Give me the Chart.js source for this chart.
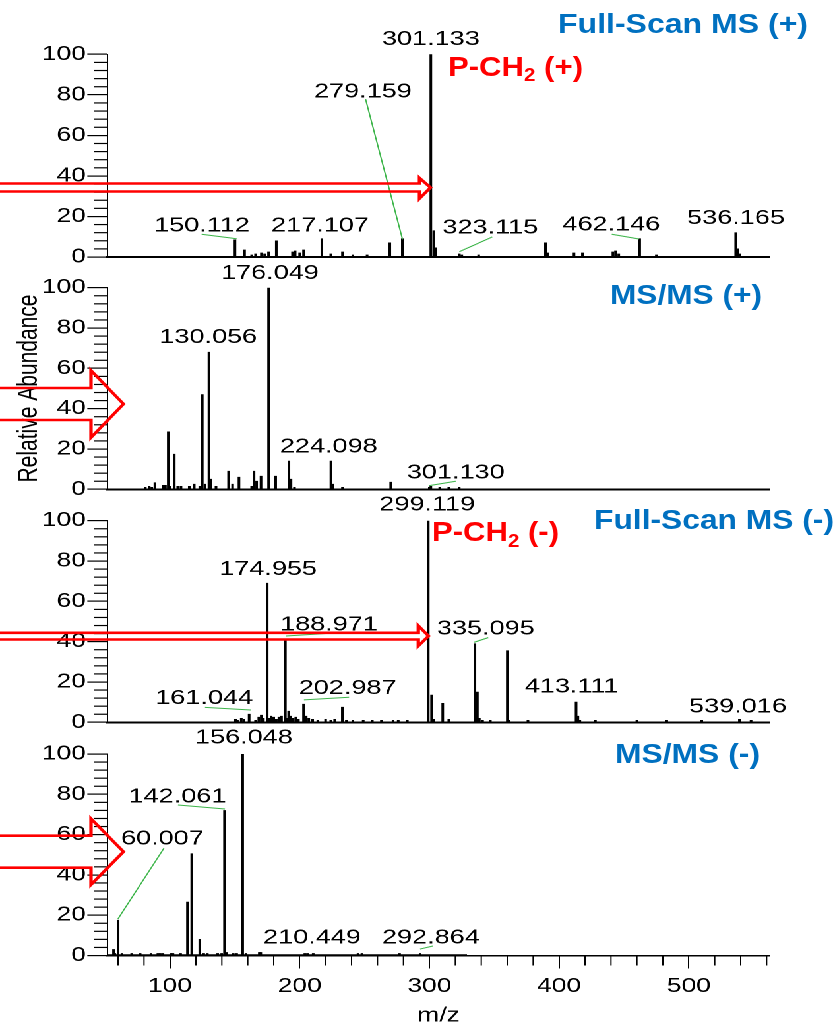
<!DOCTYPE html>
<html>
<head>
<meta charset="utf-8">
<script src="https://cdn.jsdelivr.net/npm/chart.js@4.4.1/dist/chart.umd.min.js"></script>
<style>
html,body{margin:0;padding:0;background:#fff;width:835px;height:1026px;overflow:hidden;}
#stage{position:absolute;left:0;top:0;width:633px;height:1026px;transform:scaleX(1.319115);transform-origin:0 0;}
#stage canvas{position:absolute;left:0;top:0;}
#titles{position:absolute;left:0;top:0;width:835px;height:1026px;pointer-events:none;}
.ttl{position:absolute;font-family:"Liberation Sans",Arial,sans-serif;font-weight:bold;white-space:nowrap;line-height:1;transform-origin:0 0;}
.sub{font-size:0.66em;position:relative;top:0.3em;}
</style>
</head>
<body>
<div id="stage">
  <canvas id="c1" width="633" height="1026"></canvas>
  <canvas id="c2" width="633" height="1026"></canvas>
  <canvas id="c3" width="633" height="1026"></canvas>
  <canvas id="c4" width="633" height="1026"></canvas>
</div>
<div id="titles"></div>
<script>
// ---------------- DATA ----------------
// Panel 1: Full-Scan MS (+)
const fullPosMz = [150.112,157.5,163,166,170.5,173,176,182,194.5,196.5,200,203,217.107,224,233,241,252,269.5,279.159,301.133,303.4,305,323.1,325,338,389.5,391,411.5,418,441.5,443.5,446,462.146,475,536.165,537.5,539];
const fullPosAb = [8.5,3.5,1,1.5,2,1.5,2.5,8,2.5,3,2,3.5,9,1.5,2.5,1,1,7,9,100,13,4.5,1.5,1,1,7,2,2,2,2.5,3,1.5,9,1,12,4,1.5];
const fullPosLabels = ['301.133','279.159','150.112','217.107','323.115','462.146','536.165'];

// Panel 2: MS/MS (+)
const msmsPosMz = [81,84,86,88.4,95,96.5,98.7,100,103.3,106,108.5,114.9,118.7,123,124.9,127,130.056,131.6,135.5,145.2,148.3,153.2,163,164.8,166.8,170.2,176.049,181.5,191.7,193.3,196,224.098,225.5,233,270.2,300,301.13,308,315,323];
const msmsPosAb = [1,1.5,1,3.3,2,2,28.5,1.5,17.4,1.5,1.5,1.5,2.5,1.5,47,2.5,68,5,1.5,9,2.5,6,1.5,9,4,6.5,100,6.5,14,5,1,14,2.5,1,3.5,1,1.5,1,1,1];
const msmsPosLabels = ['176.049','130.056','224.098','301.130'];

// Panel 3: Full-Scan MS (-)
const fullNegMz = [150.5,152,155,157,161.044,166,168.5,170.4,172,174.955,176.5,178,180,182,184,186,188.971,190.5,191.5,193,195,197,199,202.987,205,207,210,214,220,224,227,232.9,236,241,249,256,263,272,276,283,299.119,301.7,303.5,310.3,315,335.095,337,338.5,341,347,360.1,361.5,376,413.111,414.5,416,428,460,483,510,539.016,548];
const fullNegAb = [1.5,1,2,1.5,4,1,2.5,3.5,2,69,2,3,2.5,1.5,2.5,3,40.5,2,5.5,3,2,2.5,1.5,9,3,2,1.5,1,1.5,1,1.5,7.5,1,1,1,1,1,1,1,1,100,13.5,1.5,9.4,1.5,39,15,2,1,1,35.5,1,1,10,3,1,1,1,1,1,1.5,1];
const fullNegLabels = ['299.119','174.955','188.971','335.095','202.987','161.044','413.111','539.016'];

// Panel 4: MS/MS (-)
const msmsNegMz = [56.5,57.5,60.007,63,70.5,77,85.4,90.7,92.5,94.6,100.8,102.3,108.2,113.5,116.8,123,126,128.8,136.8,139.9,142.061,143.5,148.8,151.4,156.048,158.6,168.9,170,204,206,210.449,245,248,277,292.864];
const msmsNegAb = [3,1,17.5,1,1,1,1,1,1,1,1,1,1,26.5,50.5,8,1,1,1,1,72,1.5,1,1,100,1,1.5,1.5,1,1,1,1,1,1,1];
const msmsNegLabels = ['156.048','142.061','60.007','210.449','292.864'];
const msmsNegScan = [52, 329];   // recorded scan range of the MS/MS (-) trace

// axis tick values
const yTickStep = 20, yMinorStep = 4;
const xTickStep = 100, xMinorStep = 20;

// ---------------- LAYOUT (display px / label placement) ----------------
const S = 835 / 633;
const X_MIN = 51.7, X_MAX = 562.6;
const FONT = '"Liberation Sans", Arial, sans-serif';
const lx = d => d / S;

const panelTop = [54.3, 287.7, 520.7, 754];
const panelBottom = [257, 489.3, 722.3, 955.5];

// label anchor [m/z, abundance] and optional leader [m/z1, ab1, m/z2, ab2]
const labelPos = [
  [[301.2,107.4],[248.8,81.5],[124.7,15.4],[215.7,15.4],[347,14.3],[440.3,15.8],[536.4,19.1]],
  [[177.1,107.2],[129.5,75.4],[222.4,21.1],[320.4,8.2]],
  [[298.3,107.8],[175.7,75.9],[222.6,48.3],[343.5,46.3],[237.0,16.9],[126.4,11.9],[409.7,17.7],[537.9,7.6]],
  [[157.0,108.1],[105.8,78.7],[94.2,57.8],[209.5,8.7],[301.2,8.7]]
];
const leaderPos = [
  [null,[250.8,77.9,279.3,8.7],[124.4,11.2,151.4,9.0],null,[348.5,9.9,323.1,2.6],[440.6,11.2,461.6,8.9],null],
  [null,null,null,[299.9,1.8,320.3,4.0]],
  [null,null,[189.4,42.8,223.4,44.2],[334.6,39.7,345.4,42.0],[203.3,11.1,238.1,12.4],[127.0,7.4,162.2,6.1],null,null],
  [null,[106.2,74.7,142.4,72.7],[95.4,53.3,59.9,18.1],null,[292.8,3.2,302.8,4.7]]
];

const arrowLayout = [
  {y1:183.5, y2:191.5, hb:419.5, ht:178, hbot:198.5, tipX:430.5, tipY:187.5},
  {y1:388, y2:420, hb:91, ht:370.5, hbot:437.5, tipX:123.5, tipY:404},
  {y1:632.8, y2:639.5, hb:418.3, ht:625.7, hbot:646, tipX:428.5, tipY:636},
  {y1:835.7, y2:867.7, hb:91, ht:818.7, hbot:884.7, tipX:123.5, tipY:851.7}
];

// ---------------- PLUGINS ----------------
const minorTicks = {
  id: 'minorTicks',
  afterDraw(chart, args, opts) {
    const {ctx} = chart;
    const ys = chart.scales.y, xs = chart.scales.x;
    ctx.save();
    ctx.strokeStyle = '#000';
    ctx.lineWidth = 1.2;
    for (let v = yMinorStep; v < 100; v += yMinorStep) {
      if (v % yTickStep === 0) continue;
      const py = ys.getPixelForValue(v);
      ctx.beginPath();
      ctx.moveTo(ys.right - lx(13), py);
      ctx.lineTo(ys.right, py);
      ctx.stroke();
    }
    if (opts.x) {
      ctx.lineWidth = 1;
      for (let v = 60; v <= X_MAX; v += xMinorStep) {
        if (v % xTickStep === 0) continue;
        const p = xs.getPixelForValue(v);
        ctx.beginPath();
        ctx.moveTo(p, xs.top);
        ctx.lineTo(p, xs.top + 10);
        ctx.stroke();
      }
    }
    ctx.restore();
  }
};

const peakLabels = {
  id: 'peakLabels',
  afterDatasetsDraw(chart, args, opts) {
    const {ctx} = chart;
    const xs = chart.scales.x, ys = chart.scales.y;
    ctx.save();
    opts.leaders.forEach(l => {
      if (!l) return;
      ctx.strokeStyle = '#3DB54A';
      ctx.lineWidth = 1;
      ctx.beginPath();
      ctx.moveTo(xs.getPixelForValue(l[0]), ys.getPixelForValue(l[1]));
      ctx.lineTo(xs.getPixelForValue(l[2]), ys.getPixelForValue(l[3]));
      ctx.stroke();
    });
    ctx.font = '20.5px ' + FONT;
    ctx.fillStyle = '#000';
    ctx.textAlign = 'center';
    ctx.textBaseline = 'middle';
    opts.texts.forEach((t, i) => {
      const p = opts.pos[i];
      ctx.fillText(t, xs.getPixelForValue(p[0]), ys.getPixelForValue(p[1]));
    });
    ctx.restore();
  }
};

const arrowPlugin = {
  id: 'arrow',
  afterDraw(chart, args, a) {
    if (!a || a.tipX === undefined) return;
    const {ctx} = chart;
    ctx.save();
    ctx.strokeStyle = '#FF0000';
    ctx.lineWidth = 2.6;
    ctx.lineJoin = 'miter';
    ctx.beginPath();
    ctx.moveTo(0, a.y1);
    ctx.lineTo(lx(a.hb), a.y1);
    ctx.lineTo(lx(a.hb), a.ht);
    ctx.lineTo(lx(a.tipX), a.tipY);
    ctx.lineTo(lx(a.hb), a.hbot);
    ctx.lineTo(lx(a.hb), a.y2);
    ctx.lineTo(0, a.y2);
    ctx.stroke();
    ctx.restore();
  }
};

// ---------------- BUILD ----------------
function buildPanel(idx, mz, ab, texts, opt) {
  const isLast = idx === 3;
  const datasets = [{
    type: 'bar',
    data: mz.map((m, i) => ({x: m, y: ab[i]})),
    backgroundColor: '#000',
    borderWidth: 0,
    barThickness: 1.35,
    grouped: false
  }];
  if (opt.scan) {
    datasets.push({
      type: 'line',
      data: opt.scan.map(m => ({x: m, y: 0})),
      borderColor: '#000',
      borderWidth: 2.6,
      pointRadius: 0
    });
  }
  const xAxisH = isLast ? 1026 - panelBottom[idx] : 0;
  return new Chart(document.getElementById('c' + (idx + 1)), {
    type: 'bar',
    data: {datasets},
    options: {
      responsive: false,
      animation: false,
      devicePixelRatio: 2,
      events: [],
      layout: {padding: {left: 0, right: 633 - lx(770), top: panelTop[idx], bottom: 1026 - panelBottom[idx] - xAxisH}},
      plugins: {
        legend: {display: false},
        tooltip: {enabled: false},
        minorTicks: {x: isLast},
        peakLabels: {texts, pos: labelPos[idx], leaders: leaderPos[idx]},
        arrow: arrowLayout[idx]
      },
      scales: {
        x: {
          type: 'linear',
          min: X_MIN, max: X_MAX,
          offset: false,
          afterFit(s) { s.height = xAxisH; },
          border: {display: true, color: '#000', width: isLast ? 1.5 : 2},
          grid: {display: isLast, offset: false, drawOnChartArea: false, drawTicks: true, tickLength: 13, color: '#000', tickColor: '#000', lineWidth: 1, tickWidth: 1},
          ticks: {display: isLast, stepSize: xTickStep, includeBounds: false, color: '#000', font: {family: FONT, size: 20}, padding: 6, maxRotation: 0, autoSkip: false},
          title: {display: isLast, text: 'm/z', color: '#000', font: {family: FONT, size: 20, lineHeight: 1}, padding: {top: 0, bottom: 0}}
        },
        y: {
          min: 0, max: 100,
          afterFit(s) { s.width = lx(107.3); },
          border: {display: true, color: '#000', width: 1},
          grid: {display: true, drawOnChartArea: false, drawTicks: true, tickLength: lx(20), color: '#000', tickColor: '#000', lineWidth: 1.2, tickWidth: 1.2},
          ticks: {stepSize: yTickStep, color: '#000', font: {family: FONT, size: 20}, padding: 1, autoSkip: false},
          title: {display: !!opt.yTitle, text: opt.yTitle || '', color: '#000', font: {family: FONT, size: 21, lineHeight: 1.2}, padding: {top: 9.8, bottom: 0}}
        }
      }
    },
    plugins: [minorTicks, peakLabels, arrowPlugin]
  });
}

buildPanel(0, fullPosMz, fullPosAb, fullPosLabels, {});
buildPanel(1, msmsPosMz, msmsPosAb, msmsPosLabels, {yTitle: 'Relative Abundance'});
buildPanel(2, fullNegMz, fullNegAb, fullNegLabels, {});
buildPanel(3, msmsNegMz, msmsNegAb, msmsNegLabels, {scan: msmsNegScan});

// ---------------- TITLES ----------------
const BLUE = '#0070C0', RED = '#FF0000';
const titleLayout = [
  {html: 'Full-Scan MS (+)', color: BLUE, left: 558, right: 808, capMid: 24, size: 28},
  {html: 'P-CH<span class="sub">2</span> (+)', color: RED, left: 448, right: 583, capMid: 66.4, size: 28},
  {html: 'MS/MS (+)', color: BLUE, left: 610, right: 762, capMid: 295, size: 28},
  {html: 'Full-Scan MS (-)', color: BLUE, left: 594, right: 834, capMid: 520, size: 28},
  {html: 'P-CH<span class="sub">2</span> (-)', color: RED, left: 432, right: 559, capMid: 531.7, size: 28},
  {html: 'MS/MS (-)', color: BLUE, left: 615, right: 760, capMid: 754, size: 28}
];
const holder = document.getElementById('titles');
titleLayout.forEach(t => {
  const el = document.createElement('div');
  el.className = 'ttl';
  el.innerHTML = t.html;
  el.style.color = t.color;
  el.style.fontSize = t.size + 'px';
  el.style.left = t.left + 'px';
  el.style.top = (t.capMid - 0.49 * t.size) + 'px';
  holder.appendChild(el);
  const w = el.getBoundingClientRect().width;
  el.style.transform = 'scaleX(' + ((t.right - t.left) / w).toFixed(4) + ')';
});
</script>
</body>
</html>
